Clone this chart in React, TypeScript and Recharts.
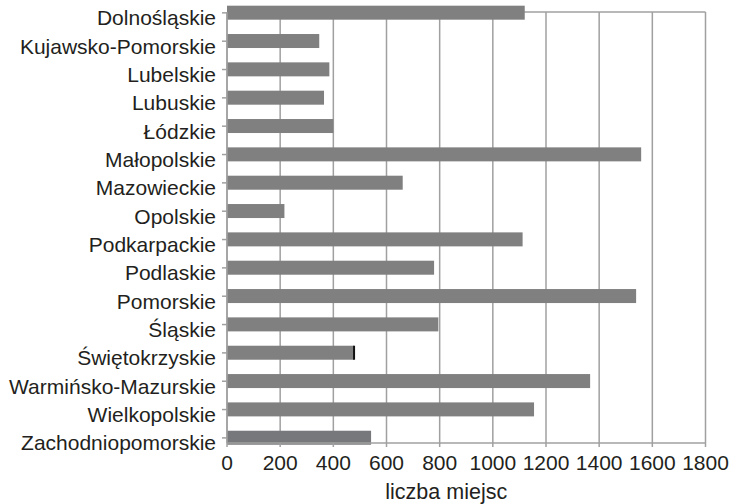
import { BarChart, Bar, XAxis, YAxis, CartesianGrid, Cell, Label } from "recharts";

const regions = [
  "Dolnośląskie",
  "Kujawsko-Pomorskie",
  "Lubelskie",
  "Lubuskie",
  "Łódzkie",
  "Małopolskie",
  "Mazowieckie",
  "Opolskie",
  "Podkarpackie",
  "Podlaskie",
  "Pomorskie",
  "Śląskie",
  "Świętokrzyskie",
  "Warmińsko-Mazurskie",
  "Wielkopolskie",
  "Zachodniopomorskie",
];

const places = [
  1120, 347, 385, 365, 400, 1558, 661, 216, 1112, 779, 1539, 795, 478, 1366,
  1155, 542,
];

const xTicks = [0, 200, 400, 600, 800, 1000, 1200, 1400, 1600, 1800];

// regions whose bar has a black end mark in the original
const marked = ["Świętokrzyskie"];

const data = regions.map((name, idx) => ({ idx, name, places: places[idx] }));
const yTicks = data.map((d) => d.idx);

const FONT = "'Liberation Sans', Arial, sans-serif";
const TEXT = "#231f20";
const LINE = "#a0a0a0";

function RegionTick(props: any) {
  const { x, y, payload } = props;
  return (
    <text
      x={x}
      y={y + 5}
      textAnchor="end"
      dominantBaseline="central"
      fontFamily={FONT}
      fontSize={21}
      fill={TEXT}
    >
      {regions[payload.value]}
    </text>
  );
}

function BarShape(props: any) {
  const { x, y, width, height, fill, payload } = props;
  return (
    <g>
      <rect x={x} y={y} width={width} height={height} fill={fill} />
      {marked.includes(payload.name) && (
        <rect x={x + width - 1} y={y} width={2} height={height} fill="#111" />
      )}
    </g>
  );
}

export default function App() {
  return (
    <div style={{ position: "absolute", left: 0, top: 0, width: 731, height: 504 }}>
      <BarChart
        width={731}
        height={504}
        data={data}
        layout="vertical"
        margin={{ top: 12, right: 25.5, bottom: 0, left: 0 }}
      >
        <CartesianGrid
          stroke={LINE}
          strokeWidth={1.5}
          horizontalCoordinatesGenerator={({ offset }: any) => [offset.top]}
        />
        <XAxis
          type="number"
          dataKey="places"
          domain={[0, 1800]}
          ticks={xTicks}
          interval={0}
          height={61}
          tickSize={4}
          tickMargin={8}
          stroke={LINE}
          strokeWidth={1.5}
          tick={{ fill: TEXT, fontSize: 21, fontFamily: FONT }}
        >
          <Label
            content={({ viewBox }: any) => (
              <text
                x={viewBox.x + viewBox.width / 2 - 20}
                y={viewBox.y + viewBox.height - 5}
                textAnchor="middle"
                fontFamily={FONT}
                fontSize={21.5}
                fill={TEXT}
              >
                liczba miejsc
              </text>
            )}
          />
        </XAxis>
        <YAxis
          type="number"
          dataKey="idx"
          domain={[-0.03, 15.18]}
          ticks={yTicks}
          interval={0}
          width={227}
          tickSize={5}
          tickMargin={6}
          stroke={LINE}
          strokeWidth={1.5}
          tick={<RegionTick />}
        />
        <Bar
          dataKey="places"
          barSize={14}
          fill="#808080"
          shape={<BarShape />}
          isAnimationActive={false}
        >
          {data.map((d) => (
            <Cell
              key={d.name}
              fill={d.name === "Zachodniopomorskie" ? "#77787b" : "#808080"}
            />
          ))}
        </Bar>
      </BarChart>
    </div>
  );
}
